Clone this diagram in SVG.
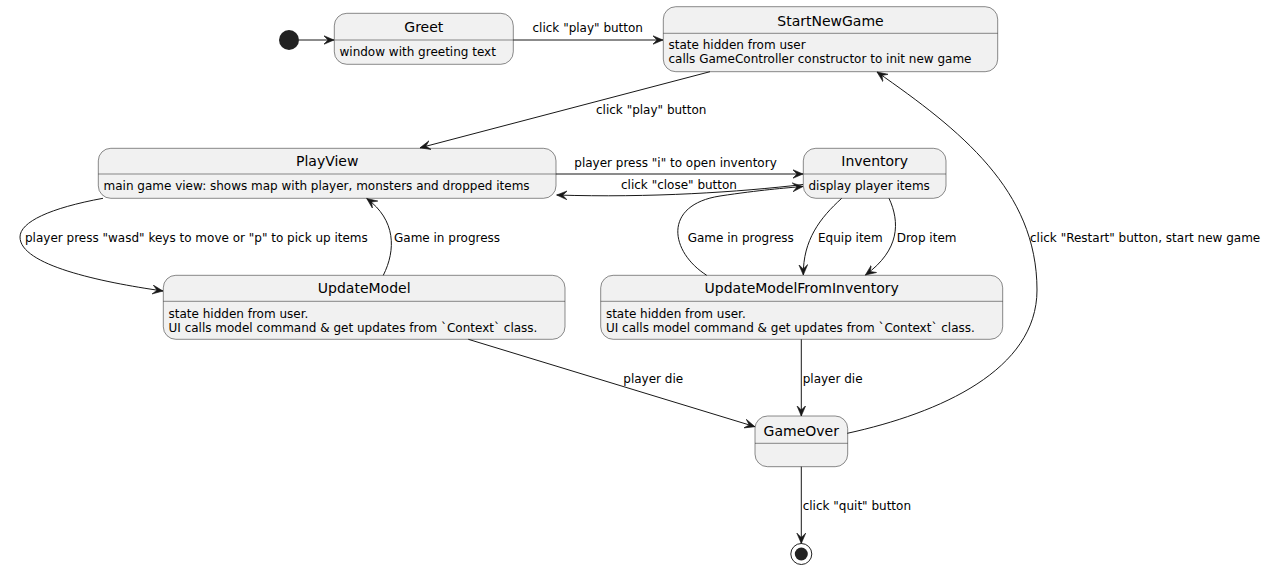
<svg xmlns="http://www.w3.org/2000/svg" width="1277" height="570" viewBox="0 0 1277 570">
<defs>
<style>
.box{fill:#F1F1F1;stroke:#181818;stroke-width:0.5}
.sep{stroke:#181818;stroke-width:0.5}
.t{font-family:"DejaVu Sans",sans-serif;font-size:14px;fill:#000;text-anchor:middle}
.b{font-family:"DejaVu Sans",sans-serif;font-size:12px;fill:#000}
.l{font-family:"DejaVu Sans",sans-serif;font-size:12px;fill:#000}
.e{fill:none;stroke:#181818;stroke-width:1;marker-end:url(#ah)}
</style>
<marker id="ah" markerUnits="userSpaceOnUse" viewBox="0 0 11 10" refX="10.5" refY="5" markerWidth="11" markerHeight="10" orient="auto">
<path d="M0,0.5 L10.5,5 L0,9.5 L4.5,5 Z" fill="#181818" stroke="#181818" stroke-width="0.6" stroke-linejoin="miter"/>
</marker>
</defs>

<g id="start"><circle cx="289" cy="40" r="10" fill="#222222"/></g>

<g id="Greet">
<rect class="box" x="334.3" y="13.3" width="179" height="51" rx="12.5"/>
<line class="sep" x1="334.3" y1="40" x2="513.3" y2="40"/>
<text class="t" x="423.8" y="32">Greet</text>
<text class="b" x="339.5" y="55.5">window with greeting text</text>
</g>

<g id="StartNewGame">
<rect class="box" x="663.3" y="6.7" width="334.4" height="65" rx="12.5"/>
<line class="sep" x1="663.3" y1="33.3" x2="997.7" y2="33.3"/>
<text class="t" x="830.5" y="25.5">StartNewGame</text>
<text class="b" x="668.5" y="48.5">state hidden from user</text>
<text class="b" x="668.5" y="62.5">calls GameController constructor to init new game</text>
</g>

<g id="PlayView">
<rect class="box" x="98.3" y="148.3" width="457.7" height="50" rx="12.5"/>
<line class="sep" x1="98.3" y1="174" x2="556" y2="174"/>
<text class="t" x="327.2" y="166">PlayView</text>
<text class="b" x="103.5" y="190">main game view: shows map with player, monsters and dropped items</text>
</g>

<g id="Inventory">
<rect class="box" x="803.3" y="148.3" width="142.7" height="50" rx="12.5"/>
<line class="sep" x1="803.3" y1="174" x2="946" y2="174"/>
<text class="t" x="874.7" y="166">Inventory</text>
<text class="b" x="808.5" y="190">display player items</text>
</g>

<g id="UpdateModel">
<rect class="box" x="163.3" y="275.3" width="401.7" height="64" rx="12.5"/>
<line class="sep" x1="163.3" y1="301.3" x2="565" y2="301.3"/>
<text class="t" x="364.2" y="293.3">UpdateModel</text>
<text class="b" x="168.5" y="318">state hidden from user.</text>
<text class="b" x="168.5" y="332">UI calls model command &amp; get updates from `Context` class.</text>
</g>

<g id="UpdateModelFromInventory">
<rect class="box" x="600.7" y="275.3" width="402" height="64" rx="12.5"/>
<line class="sep" x1="600.7" y1="301.3" x2="1002.7" y2="301.3"/>
<text class="t" x="801.7" y="293.3">UpdateModelFromInventory</text>
<text class="b" x="605.9" y="318">state hidden from user.</text>
<text class="b" x="605.9" y="332">UI calls model command &amp; get updates from `Context` class.</text>
</g>

<g id="GameOver">
<rect class="box" x="755" y="416" width="92.7" height="50.7" rx="12.5"/>
<line class="sep" x1="755" y1="443.3" x2="847.7" y2="443.3"/>
<text class="t" x="801.3" y="435.5">GameOver</text>
</g>

<g id="end">
<circle cx="801.3" cy="554" r="10.5" fill="none" stroke="#222222" stroke-width="1"/>
<circle cx="801.3" cy="554" r="6.5" fill="#222222"/>
</g>

<g id="connectors">
<path class="e" d="M299,40 L334,40"/>
<path class="e" d="M513.3,40 L663,40"/>
<text class="l" x="532.5" y="31.5">click "play" button</text>

<path class="e" d="M710,71.7 L420,147.8"/>
<text class="l" x="596" y="113.5">click "play" button</text>

<path class="e" d="M556,174 L803,174"/>
<text class="l" x="574.3" y="166.5">player press "i" to open inventory</text>

<path class="e" d="M803,184.5 C740,192 650,198 556.7,195"/>
<text class="l" x="621" y="189">click "close" button</text>

<path class="e" d="M103,198.3 C50,208 20,222 20,237 C20,265 100,282 163,291"/>
<text class="l" x="25" y="242">player press "wasd" keys to move or "p" to pick up items</text>

<path class="e" d="M383.3,275.3 C396,250 396,220 366.7,198.5"/>
<text class="l" x="394" y="242">Game in progress</text>

<path class="e" d="M706.7,275.3 C670,252 662,205 720,196 C760,190 785,188 803,186.5"/>
<text class="l" x="687.7" y="242">Game in progress</text>

<path class="e" d="M841.7,198.3 C820,218 803,240 803.3,275"/>
<text class="l" x="818" y="242">Equip item</text>

<path class="e" d="M889,198.3 C900,222 900,250 865.4,275"/>
<text class="l" x="896.7" y="242">Drop item</text>

<path class="e" d="M468.3,339.3 L755,426.7"/>
<text class="l" x="623.3" y="383">player die</text>

<path class="e" d="M801.3,339.3 L801.3,416"/>
<text class="l" x="802.7" y="383">player die</text>

<path class="e" d="M847.3,433.3 C940,413 1037,370 1037,290 C1037,190 960,130 877,72"/>
<text class="l" x="1030" y="242">click "Restart" button, start new game</text>

<path class="e" d="M801.3,466.7 L801.3,543.5"/>
<text class="l" x="802.7" y="510">click "quit" button</text>
</g>
</svg>
